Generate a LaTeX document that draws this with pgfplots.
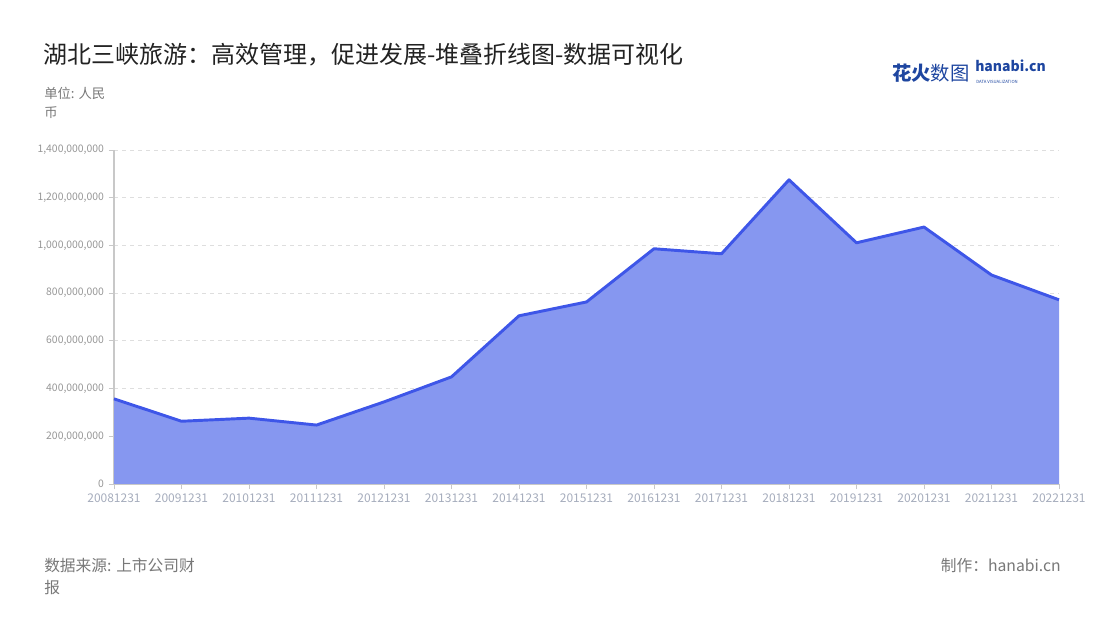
\documentclass[border=0pt]{standalone}
\usepackage{pgfplots}
\pgfplotsset{compat=1.18}
\usepackage{fontspec}
\setmainfont{Noto Sans CJK SC}
\definecolor{lineblue}{RGB}{62,86,232}
\definecolor{fillblue}{RGB}{134,151,240}
\definecolor{titlec}{RGB}{34,34,34}
\definecolor{tickc}{RGB}{150,150,150}
\definecolor{xtickc}{RGB}{165,172,188}
\definecolor{axisc}{RGB}{200,200,200}
\definecolor{gridc}{RGB}{222,222,222}
\definecolor{notec}{RGB}{120,120,120}
\definecolor{logoblue}{RGB}{30,70,160}
\begin{document}
\begin{tikzpicture}[x=0.75pt,y=0.75pt]
\path[use as bounding box] (0,0) rectangle (1100,620);
\node[anchor=west,font=\fontsize{18}{20}\selectfont,text=titlec,inner sep=0] at (43,565) {湖北三峡旅游：高效管理，促进发展-堆叠折线图-数据可视化};
\node[anchor=north west,font=\fontsize{10}{14}\selectfont,text=notec,inner sep=0,align=left] at (44,533) {单位: 人民\\币};
\node[anchor=north west,font=\fontsize{11.8}{16.5}\selectfont,text=notec,inner sep=0,align=left] at (44,62) {数据来源: 上市公司财\\报};
\node[anchor=north east,font=\fontsize{11.8}{16}\selectfont,text=notec,inner sep=0] at (1061,62) {制作：hanabi.cn};
\node[anchor=west,font=\fontsize{14.5}{16}\selectfont\bfseries,text=logoblue,inner sep=0] at (892,547) {花火\mdseries 数图};
\node[anchor=base west,font=\fontsize{10.5}{12}\selectfont\bfseries,text=logoblue,inner sep=0] at (975,548) {hanabi.cn};
\node[anchor=north west,font=\fontsize{3.2}{4}\selectfont,text=logoblue,inner sep=0] at (976,540) {DATA VISUALIZATION};
\begin{axis}[
  at={(85.5pt,102pt)}, anchor=south west,
  width=708.75pt, height=250.5pt, scale only axis,
  xmin=0, xmax=14, ymin=0, ymax=1400000000,
  axis lines=left,
  axis line style={-, draw=axisc, line width=0.8pt},
  xtick={0,...,14},
  xticklabels={20081231,20091231,20101231,20111231,20121231,20131231,20141231,20151231,20161231,20171231,20181231,20191231,20201231,20211231,20221231},
  ytick={0,200000000,400000000,600000000,800000000,1000000000,1200000000,1400000000},
  scaled y ticks=false,
  yticklabel style={font=\fontsize{7.8}{9}\selectfont, text=tickc,
    /pgf/number format/fixed, /pgf/number format/1000 sep={,}, /pgf/number format/assume math mode=true},
  xticklabel style={font=\fontsize{9}{10}\selectfont, text=xtickc},
  tick style={draw=axisc, line width=0.6pt},
  major tick length=4pt,
  tick align=outside,
  ymajorgrids=true,
  major grid style={draw=gridc, dashed, line width=0.6pt},
  clip=false,
]
\addplot[draw=none, fill=fillblue] coordinates {
(0,357000000) (1,263000000) (2,276000000) (3,247000000) (4,344000000) (5,449000000) (6,705000000) (7,763000000) (8,986000000) (9,965000000) (10,1275000000) (11,1011000000) (12,1077000000) (13,876000000) (14,772000000)
} \closedcycle;
\addplot[draw=lineblue, line width=2.2pt, line join=round, mark=none] coordinates {
(0,357000000) (1,263000000) (2,276000000) (3,247000000) (4,344000000) (5,449000000) (6,705000000) (7,763000000) (8,986000000) (9,965000000) (10,1275000000) (11,1011000000) (12,1077000000) (13,876000000) (14,772000000)
};
\end{axis}
\end{tikzpicture}
\end{document}
